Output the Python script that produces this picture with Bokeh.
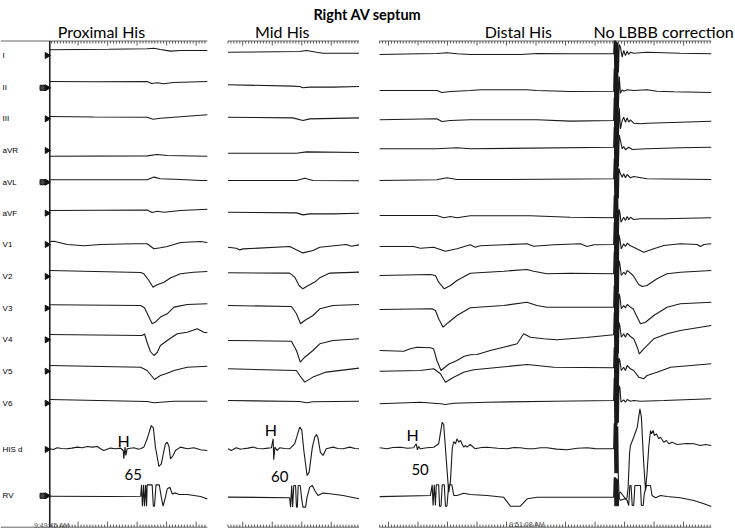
import math
from bokeh.plotting import figure
from bokeh.models import Range1d
from bokeh.embed import file_html
from bokeh.resources import INLINE
from bokeh.core.properties import value

# ---------------------------------------------------------------- data
chart_title = "Right AV septum"
leads = ["I", "II", "III", "aVR", "aVL", "aVF", "V1", "V2", "V3", "V4", "V5", "V6", "HIS d", "RV"]
boxed_leads = ["II", "aVL", "RV"]

section_labels = ["Proximal His", "Mid His", "Distal His"]
extra_label = "No LBBB correction"

panel_duration_ms = [534, 444, 1124]
tick_phase_ms = [96, 50, 30]          # position of the 100 ms marks
h_time_ms = [250, 145, 112]           # His deflection
hv_interval_ms = [65, 60, 50]         # HV interval
timestamp_text = ["9:49:45 AM", "9:51:08 AM"]

# DC level of each trace relative to its channel marker (display units, up = +)
dc_proximal = [5.7, 6.3, 2.3, -5.7, 2.4, 2.7, 3.0, 6.0, 3.4, 5.3, 5.7, 3.7, 0.7, -0.4]
dc_mid = [3.3, 3.0, 1.6, -2.7, 1.7, 1.0, -2.7, 3.7, 2.7, -0.7, 2.4, 2.7, 0.7, -2.0]
dc_distal = [1.0, -2.7, -1.0, 1.7, 1.7, -2.3, -2.0, 1.0, -1.3, -10.7, 0.0, -0.6, 1.2, -1.4]

# traces: (time ms, amplitude) keypoints
proximal = {
    "I": [(0, 0), (200, 0.5), (330, 1), (353, 1.5), (375, 0.3), (409, -1.3), (443, -0.7), (534, -0.7)],
    "II": [(0, 0), (150, -0.3), (330, 0), (345, -2), (365, -1.3), (385, -2.3), (420, -1), (534, 0)],
    "III": [(0, 0), (150, -0.5), (330, -0.7), (350, -2.7), (375, -1.7), (421, -0.7), (466, 0.3), (534, 1.7)],
    "aVR": [(0, 0), (330, 0.3), (364, 1.7), (398, 0.7), (534, 0)],
    "aVL": [(0, 0), (330, 0), (353, 2.7), (375, 1), (443, 0.3), (511, -0.7), (534, -0.7)],
    "aVF": [(0, 0), (330, 0.5), (347, -2), (364, -0.7), (387, -1.7), (443, 0), (534, 1.3)],
    "V1": [(0, 0), (14, 0.3), (59, -3), (116, -4.3), (172, -3), (285, -2.3), (330, -2.3), (353, -7.3),
           (375, -6.3), (398, -5), (443, -1), (511, 0), (534, -1)],
    "V2": [(0, 0), (308, -2), (319, -3.3), (336, -10), (350, -16.7), (364, -14.3), (387, -11.7),
           (410, -7.3), (443, -3.3), (488, -1.7), (534, -1)],
    "V3": [(0, 0), (308, -0.7), (321, -3), (336, -12.3), (347, -19), (358, -17.3), (375, -12.3),
           (398, -9), (421, -2.3), (466, 0.3), (534, 1)],
    "V4": [(0, 0), (313, -1), (321, 0.5), (330, -8), (341, -17), (353, -21), (364, -18), (375, -11),
           (398, -6), (432, 0.7), (466, 2.3), (500, 5.7), (522, 2.3), (534, 1.7)],
    "V5": [(0, 0), (308, -1.7), (330, -5), (355, -14), (375, -10), (398, -7.7), (421, -5), (466, -1.7),
           (534, -0.7)],
    "V6": [(0, 0), (330, -2), (353, -3.3), (375, -2.7), (421, -1.7), (534, -1.7)],
    "HIS d": [(0, 0), (12, -0.7), (25, 1), (40, 0.3), (59, 0), (75, 0.7), (93, 1.7), (110, 1), (127, 2.3),
              (145, 1.7), (161, 2.3), (172, 0), (183, -1.7), (206, 0.7), (222, 0), (240, 0.7), (249, -1.7),
              (251, -10), (255, 1.7), (258, -6.7), (262, 0), (285, 1), (298, -0.3), (308, 0), (319, 1.7),
              (330, 10), (344, 23.3), (351, 21), (358, 1.7), (370, -17.7), (378, -15), (387, -1.7), (392, 5),
              (398, 6.7), (404, 2.3), (409, -10), (418, -6.7), (426, -1.7), (443, 1.7), (466, 0), (488, 1),
              (511, -1), (534, -1.7)],
    "RV": [(0, 0), (200, -0.3), (308, 0), (311, 11.3), (314, -10), (318, 11.3), (321, -10), (325, 11.3),
           (328, -10), (330, 11.3), (347, 11.3), (351, -10), (355, -10), (360, 11.3), (371, 11.3), (378, -1),
           (384, -10), (392, -1), (398, 7.3), (407, 9), (415, 2.3), (426, 3.3), (438, 1.7), (466, 1.7),
           (511, -0.3), (534, -2.7)],
}

mid = {
    "I": [(0, 0), (243, 0.7), (266, 1.7), (300, 0), (322, -1), (444, -1)],
    "II": [(0, 0), (220, -1.3), (243, -1.7), (254, -3), (277, -2.3), (356, -2.3), (444, -1.7)],
    "III": [(0, 0), (220, -0.7), (254, -3.3), (277, -1.7), (444, -0.7)],
    "aVR": [(0, 0), (232, 0), (266, 1.3), (444, 0.7)],
    "aVL": [(0, 0), (232, 0), (260, 2.3), (288, 0), (444, -0.3)],
    "aVF": [(0, 0), (232, -0.7), (254, -2.7), (277, -1.7), (356, -1.7), (444, -1)],
    "V1": [(0, 0), (28, -1), (40, -2.7), (51, -1.7), (209, 0.7), (254, -5.7), (288, -3.3), (311, 0),
           (401, 2.7), (418, 1), (444, 2.3)],
    "V2": [(0, 0), (209, -0.3), (226, -4.3), (241, -12.7), (254, -16), (266, -13.7), (294, -9.3),
           (311, -5), (345, -0.3), (444, 0.7)],
    "V3": [(0, 0), (215, -1), (232, -8.3), (246, -18.3), (260, -15), (288, -10), (311, -3.3), (356, 0),
           (444, 1)],
    "V4": [(0, 0), (215, -0.7), (232, -10), (245, -21.7), (260, -16.7), (288, -10), (311, -3.3), (356, 0),
           (444, 1.7)],
    "V5": [(0, 0), (232, -1.7), (243, -6.7), (260, -13.3), (288, -8.3), (333, -3.3), (444, 0.7)],
    "V6": [(0, 0), (243, -1), (266, -2.3), (288, -1.3), (444, -0.7)],
    "HIS d": [(0, 0), (11, -1.7), (28, 1), (40, -0.3), (51, 0), (68, 0.7), (85, 1.7), (100, 0.3), (119, 0),
              (135, 0.7), (147, 1), (153, 10), (155, -11), (159, 1.7), (166, -1.7), (175, 1), (192, 0.3),
              (209, 0), (226, 5), (243, 21.7), (250, 19), (257, -1.7), (268, -26.7), (275, -23.3), (286, 1.7),
              (294, 11.7), (300, 14.3), (305, 11), (313, -3.3), (322, -6.7), (333, 0), (356, 1.7), (372, 0.3),
              (390, 0), (413, 1.7), (430, 0.3), (444, 0)],
    "RV": [(0, 0.7), (209, 0), (212, -9.3), (216, 12.3), (219, -9.3), (223, 12.3), (229, 12.3), (232, -9.3),
           (235, -9.3), (238, 12.3), (245, 12.3), (249, 0.7), (254, -9.3), (263, -9.3), (268, 0.7),
           (277, 10.7), (286, 12.3), (294, 7.3), (305, 2.3), (322, 4.7), (345, 4), (390, 2.3), (444, -1)],
}

distal = {
    "I": [(0, 0), (138, 0.7), (194, 1), (228, 1.7), (262, 0.7), (307, 0), (477, 0), (533, 1), (646, 0.7),
          (793, 0.7), (795, 14), (797, -22), (799, 14), (801, -22), (803, 13), (805, -21), (807, 12),
          (809, -18), (812, 10), (816, 7.3), (822, -2.7), (827, 4), (833, -1), (839, 3.3), (844, 0),
          (850, 2.3), (861, 1.3), (906, 2.3), (1019, 1.3), (1124, 0.7)],
    "II": [(0, 0), (194, 0), (211, -2), (240, -1), (307, 0), (341, 0.7), (499, 0.7), (533, 0), (646, -1),
           (793, -0.7), (795, 22), (797, -22), (799, 22), (801, -22), (803, 21), (805, -21), (807, 19),
           (809, -18), (812, 14), (816, -2.7), (822, 0.7), (827, -0.7), (839, 0.7), (861, 0), (906, 0.7),
           (940, -0.7), (997, -1.3), (1124, -2)],
    "III": [(0, 0), (194, 1), (211, -1.7), (240, -0.7), (307, 0), (533, 0), (646, -1.3), (793, -0.7),
            (795, 22), (797, -22), (799, 22), (801, -22), (803, 21), (805, -21), (807, 19), (809, -18),
            (812, 12), (816, -9), (822, -0.7), (827, 2.6), (833, -2.4), (839, 2), (844, -2.4), (850, 0),
            (861, -3.4), (884, -4), (906, -3.4), (1019, -2.4), (1124, -1.4)],
    "aVR": [(0, 0), (194, 0), (262, 1), (307, 0), (793, 1.6), (795, 22), (797, -22), (799, 22), (801, -22),
            (803, 21), (805, -21), (807, 19), (809, -18), (812, 14), (816, 8.3), (822, 0), (827, 2.3),
            (833, -1), (844, 1.6), (856, -0.7), (906, 0), (1019, 1), (1124, 1.6)],
    "aVL": [(0, 0), (194, 0.7), (228, 2.7), (262, 1), (420, 1), (793, 1.7), (795, 22), (797, -22),
            (799, 22), (801, -22), (803, 21), (805, -21), (807, 19), (809, -18), (811, 12), (814, 8.3),
            (822, 3.3), (827, 6.7), (833, 2.7), (839, 6), (850, 2.7), (861, 4), (906, 1.7), (1124, 1)],
    "aVF": [(0, 0), (194, 0), (217, -2.3), (240, -1), (262, -2.3), (307, -0.3), (511, -0.3), (646, -1.7),
            (793, -2.3), (795, 20), (797, -24), (799, 20), (801, -24), (803, 19), (805, -23), (807, 17),
            (809, -20), (811, 6), (814, 3.3), (818, -6.7), (827, -1.7), (833, -5), (839, -1), (844, -4.3),
            (850, -1.7), (861, -4), (884, -3.3), (963, -3.3), (1124, -2.3)],
    "V1": [(0, 0), (115, 0), (138, -1.7), (183, -0.7), (223, -4.7), (262, -2.3), (307, 1.7), (324, -0.7),
           (341, 0.7), (499, 2.7), (522, 0.3), (590, 1.7), (680, 2.7), (703, 0), (726, 1.7), (793, 2),
           (795, 24), (797, -20), (799, 24), (801, -20), (803, 23), (805, -19), (807, 21), (809, -17),
           (811, 12), (814, 7.7), (819, -2.3), (827, 2.7), (833, 0), (839, 3.3), (848, 1), (861, -0.7),
           (895, -5.7), (929, -2.3), (963, 1), (1019, 2.7), (1076, 2), (1087, 0), (1099, 2), (1124, 2.7)],
    "V2": [(0, 0), (172, 1), (189, 0), (200, -6.7), (219, -13.3), (240, -10), (262, -5), (307, 2.3),
           (420, 4.3), (499, 6), (522, 4.3), (567, 1.7), (646, 2.3), (793, 1.7), (795, 24), (797, -20),
           (799, 24), (801, -20), (803, 23), (805, -19), (807, 21), (809, -17), (811, 15), (814, 11.7),
           (819, 0), (827, 3.3), (833, 1), (839, 5), (850, 2.3), (859, 0), (878, -9), (890, -11), (906, -10),
           (940, -3.3), (974, 1.7), (1019, 3.3), (1124, 5)],
    "V3": [(0, 0), (178, 0.7), (189, -1), (200, -9.3), (215, -17.7), (234, -12.7), (262, -6), (307, 1.7),
           (420, 4), (499, 7.3), (533, 4), (567, 2.3), (793, 2.3), (795, 24), (797, -20), (799, 24),
           (801, -20), (803, 23), (805, -19), (807, 21), (809, -17), (811, 16), (814, 13), (819, 0.7),
           (827, 4), (833, 1.7), (839, 5), (850, 2.3), (859, 0.7), (873, -7.7), (884, -14.3), (901, -12.7),
           (929, -6), (974, 2.3), (1019, 5.7), (1124, 7.3)],
    "V4": [(0, 0), (81, -0.7), (104, 1.7), (127, 3.3), (172, 2.7), (183, 1.7), (194, -10), (208, -20),
           (220, -17), (235, -13.5), (262, -10), (285, -6), (307, -4.3), (330, -4), (375, 0), (420, 3.3),
           (466, 6.7), (488, 16.7), (511, 13.3), (556, 11.7), (601, 10.7), (700, 13), (793, 15.7), (795, 38),
           (797, -6), (799, 38), (801, -6), (803, 37), (805, -5), (807, 35), (809, -3), (811, 28), (814, 25),
           (819, 13.3), (827, 16.7), (833, 13.3), (839, 17.3), (850, 14), (861, 11.7), (873, 3.3),
           (880, -3.3), (895, 1.7), (929, 11.7), (974, 16.7), (1019, 20), (1124, 25)],
    "V5": [(0, 0), (138, 0.7), (183, 2.4), (206, -2.6), (223, -11), (251, -6), (285, -1), (319, 1.4),
           (500, 6.7), (590, 4), (793, 3.4), (795, 24), (797, -20), (799, 24), (801, -20), (803, 23),
           (805, -19), (807, 21), (809, -17), (811, 13), (814, 10.7), (819, 0.7), (827, 4), (833, 0.7),
           (839, 5.7), (850, 2.4), (861, 0.7), (878, -6), (895, -7.6), (906, -4.3), (940, -1), (986, 4),
           (1124, 7.4)],
    "V6": [(0, 0), (138, 1.6), (206, 0), (223, -0.7), (251, 0.6), (364, 1.6), (590, 2.6), (793, 3.3),
           (795, 26), (797, -22), (799, 26), (801, -22), (803, 25), (805, -21), (807, 23), (809, -19),
           (811, 18), (814, 16.6), (818, 1.6), (827, 4), (833, 1.6), (839, 4.3), (850, 2.6), (861, 3.3),
           (884, 2.6), (963, 3.3), (1124, 5)],
    "HIS d": [(0, 0.5), (25, -0.5), (45, 0.8), (70, 1.1), (95, 0), (115, 0.5), (124, 4.5), (128, -1.5),
              (132, 1.8), (138, -0.5), (160, 0.5), (183, 1.1), (200, 4.5), (212, 26.1), (217, 23.8),
              (226, -12.2), (234, -44), (240, -33), (246, -0.2), (251, 6.8), (257, 4.5), (262, 9.5), (268, 6.1),
              (274, 7.8), (279, 4.5), (285, 1.1), (290, 2.8), (296, 1.1), (307, 3.8), (324, -0.5), (345, 0.8),
              (364, 1.1), (400, 0), (432, -0.5), (455, 0.8), (477, 0.5), (500, -0.5), (522, -0.5), (545, 0.5),
              (567, 0.5), (600, -0.8), (635, -1.5), (670, 0), (703, 0.5), (730, -0.3), (759, -0.5),
              (793, -0.5), (795, 25), (797, -25), (799, 25), (801, -25), (803, 24), (805, -25), (807, 22),
              (809, -30), (812, -50), (816, -52), (838, -50), (842, -40), (847, -5), (850, 2.8), (861, 11.1),
              (873, 21.1), (882, 39.5), (887, 31.2), (895, -15.5), (901, -42.2), (906, -25.5), (912, 1.1),
              (918, 17.8), (921, 14.5), (927, 17.8), (931, 12.8), (938, 14.5), (946, 9.5), (952, 11.1),
              (963, 6.1), (972, 7.8), (980, 4.5), (991, 6.1), (1008, 3.8), (1040, 4.8), (1065, 4.5),
              (1087, 2.8), (1104, 3.8), (1124, 2.8)],
    "RV": [(0, 0.6), (172, 1.7), (178, 12.4), (181, -8.3), (185, 12.4), (189, -8.3), (192, 12.4), (200, 12.4),
           (203, -9), (208, -9), (212, 12.4), (219, 12.4), (223, -9), (228, -9), (234, 12.4), (245, 12.4),
           (251, 1.7), (262, 1.7), (285, 4), (307, 2.7), (364, 1.7), (420, 0), (443, -9), (477, -9),
           (500, -1.6), (534, 0), (647, 0), (793, 0), (795, 20), (797, -9), (799, 20), (801, -9), (803, 19),
           (805, -9), (807, 18), (809, -9), (811, 3.4), (816, 5), (825, 1.7), (833, -1.7), (839, -3.3),
           (844, -8.3), (848, 11.7), (852, 11.7), (856, -8.3), (861, -8.3), (865, 11.7), (884, 11.7),
           (887, -8.3), (893, -8.3), (897, 3.3), (904, 11.7), (918, 11.7), (923, 1.7), (935, -0.6),
           (952, 1.7), (974, 0.7), (1019, -0.6), (1065, -3.3), (1099, -6.6), (1124, -9.3)],
}

panel_traces = [proximal, mid, distal]
panel_dc = [dc_proximal, dc_mid, dc_distal]

# ---------------------------------------------------------------- layout
lead_row_y = [55, 87.3, 118.3, 150, 181.7, 212.7, 244, 276, 307.7, 339.3, 370.7, 402.7, 449, 495.3]
panel_gap_ms = 70
x_start, x_end = -167, 2324
ruler_top_y, ruler_bottom_y = 40.5, 526.7
label_x = -160
marker_x = -9.5
box_x = -24.5
section_label_x = [175, 184, 470]          # ms within each panel
title_x, title_y = 1077, 13.5
section_y = 31
extra_label_x = 2318
h_label_y = [440, 429, 434]
hv_label_y = [474, 476, 469]
timestamp_x = [(0, 7), (2, 500)]
timestamp_y = [524.5, 524]

offsets = [0]
for d in panel_duration_ms[:-1]:
    offsets.append(offsets[-1] + d + panel_gap_ms)

p = figure(width=735, height=528, x_range=Range1d(x_start, x_end), y_range=Range1d(528, 0),
           output_backend="svg", toolbar_location=None, min_border=0)
p.axis.visible = False
p.xgrid.grid_line_color = None
p.ygrid.grid_line_color = None
p.outline_line_color = None
p.background_fill_color = "white"

# ruler lines and ticks
lx0, lx1, ly0, ly1 = [], [], [], []
tx0, ty0, ty1 = [], [], []
for pi, dur in enumerate(panel_duration_ms):
    off = offsets[pi]
    start = x_start if pi == 0 else off
    for yy in (ruler_top_y, ruler_bottom_y):
        lx0.append(start); lx1.append(off + dur); ly0.append(yy); ly1.append(yy)
    ph = tick_phase_ms[pi]
    t = ph % 10
    while t <= dur:
        major = (t - ph) % 100 == 0
        tx0.append(off + t); ty0.append(ruler_top_y); ty1.append(ruler_top_y + (4.5 if major else 2.6))
        tx0.append(off + t); ty0.append(ruler_bottom_y); ty1.append(ruler_bottom_y - (5.5 if major else 2.6))
        t += 10
p.segment(x0=lx0, x1=lx1, y0=ly0, y1=ly1, line_color="#666666", line_width=1)
p.segment(x0=tx0, x1=tx0, y0=ty0, y1=ty1, line_color="#333333", line_width=0.8)
p.segment(x0=[0], x1=[0], y0=[ruler_top_y], y1=[ruler_bottom_y], line_color="#222222", line_width=1.6)

# traces
xs, ys = [], []
for pi, (traces, dcs) in enumerate(zip(panel_traces, panel_dc)):
    off = offsets[pi]
    for li, lead in enumerate(leads):
        pts = traces[lead]
        xs.append([off + t for t, a in pts])
        ys.append([lead_row_y[li] - dcs[li] - a for t, a in pts])
p.multi_line(xs, ys, line_color="#1a1a1a", line_width=1.1)

# channel markers and labels
p.scatter(x=[marker_x] * len(leads), y=lead_row_y, marker="triangle", angle=-math.pi / 2,
          size=6, color="#111111")
p.scatter(x=[box_x] * len(boxed_leads), y=[lead_row_y[leads.index(l)] for l in boxed_leads],
          marker="square", size=5, fill_color="#444444", line_color="#111111")
p.text(x=[label_x] * len(leads), y=lead_row_y, text=leads, text_font=value("Liberation Sans"),
       text_font_size="8px", text_color="#000000", text_align="left", text_baseline="middle")

# titles
p.text(x=[title_x], y=[title_y], text=[chart_title], text_font=value("Lato"), text_font_size="14.5px",
       text_font_style="bold", text_align="center", text_baseline="alphabetic", text_color="#000000")
p.text(x=[offsets[i] + section_label_x[i] for i in range(3)], y=[section_y] * 3, text=section_labels,
       text_font=value("Lato"), text_font_size="16px", text_align="center", text_baseline="alphabetic",
       text_color="#000000")
p.text(x=[extra_label_x], y=[section_y], text=[extra_label], text_font=value("Lato"), text_font_size="16px",
       text_align="right", text_baseline="alphabetic", text_color="#000000")

# H / HV annotations
p.text(x=[offsets[i] + h_time_ms[i] for i in range(3)], y=h_label_y, text=["H", "H", "H"],
       text_font=value("Lato"), text_font_size="16px", text_align="center", text_baseline="alphabetic",
       text_color="#000000")
p.text(x=[offsets[i] + h_time_ms[i] + hv_interval_ms[i] / 2 for i in range(3)], y=hv_label_y,
       text=[str(v) for v in hv_interval_ms], text_font=value("Lato"), text_font_size="15px",
       text_align="center", text_baseline="alphabetic", text_color="#000000")

# timestamps
p.text(x=[offsets[pi] + t for pi, t in timestamp_x], y=timestamp_y,
       text=timestamp_text, text_font=value("Liberation Sans"), text_font_size="7px", text_color="#555555",
       text_align="center", text_baseline="alphabetic")

open("out.html", "w").write(file_html(p, INLINE))
